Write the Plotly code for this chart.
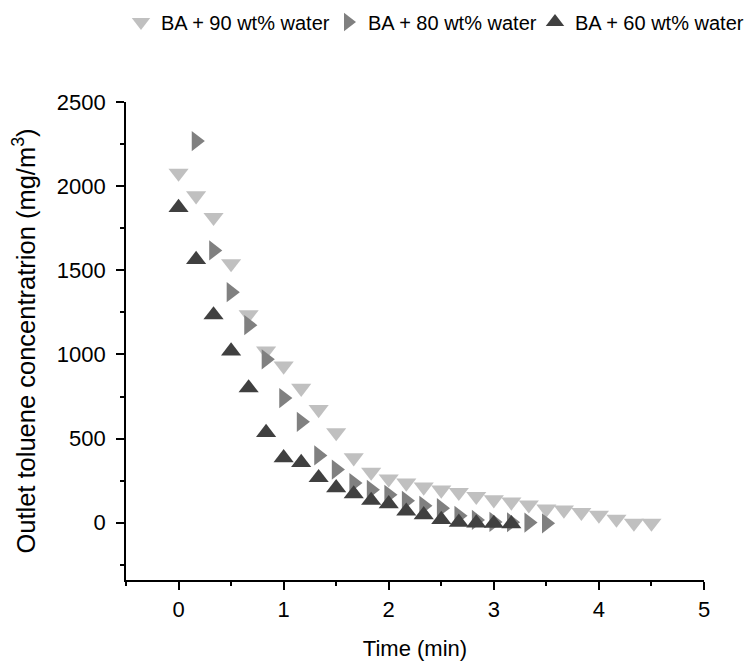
import plotly.graph_objects as go

# Time (min)
t90 = [0, 0.167, 0.333, 0.5, 0.667, 0.833, 1.0, 1.167, 1.333, 1.5, 1.667, 1.833, 2.0, 2.167,
       2.333, 2.5, 2.667, 2.833, 3.0, 3.167, 3.333, 3.5, 3.667, 3.833, 4.0, 4.167, 4.333, 4.5]
c90 = [2078, 1943, 1815, 1540, 1237, 1021, 932, 800, 673, 536, 387, 301, 261, 237,
       213, 195, 181, 157, 137, 124, 107, 82, 76, 62, 46, 22, -2, -2]

t80 = [0.167, 0.333, 0.5, 0.667, 0.833, 1.0, 1.167, 1.333, 1.5, 1.667, 1.833, 2.0, 2.167,
       2.333, 2.5, 2.667, 2.833, 3.0, 3.167, 3.333, 3.5]
c80 = [2268, 1618, 1370, 1174, 971, 741, 600, 400, 316, 236, 196, 166, 131,
       101, 87, 41, 17, 5, 3, 1, -3]

t60 = [0, 0.167, 0.333, 0.5, 0.667, 0.833, 1.0, 1.167, 1.333, 1.5, 1.667, 1.833, 2.0, 2.167,
       2.333, 2.5, 2.667, 2.833, 3.0, 3.167]
c60 = [1873, 1564, 1235, 1020, 801, 536, 386, 358, 268, 208, 171, 133, 113, 69,
       47, 19, 3, -2, -4, -6]

names = ["BA + 90 wt% water", "BA + 80 wt% water", "BA + 60 wt% water"]
colors = ["#c0c0c0", "#808080", "#404040"]
symbols = ["triangle-down", "triangle-right", "triangle-up"]
legend_ids = ["legend", "legend2", "legend3"]
legend_x = [113, 320, 527]   # left edge of each legend item (px, figure coords)

FONT = "Arial, Liberation Sans, sans-serif"
W, H = 744, 653   # page body adds an 8px offset

fig = go.Figure()
for xs, ys, nm, col, sym, lg in zip([t90, t80, t60], [c90, c80, c60], names, colors, symbols, legend_ids):
    fig.add_trace(go.Scatter(x=xs, y=ys, mode="markers", name=nm, legend=lg, showlegend=True,
                             marker=dict(symbol=sym, size=17.5, color=col, line=dict(width=0))))

axis_common = dict(showline=True, linecolor="black", linewidth=1.6, ticks="outside",
                   ticklen=8, tickwidth=1.6, tickcolor="black", showgrid=False, zeroline=False,
                   mirror=False, automargin=False,
                   tickfont=dict(family=FONT, size=22, color="black"))

fig.update_xaxes(range=[-0.5, 5.0], tickvals=[0, 1, 2, 3, 4, 5], ticklabelstandoff=1,
                 minor=dict(tickvals=[-0.5, 0.5, 1.5, 2.5, 3.5, 4.5], ticklen=4, tickwidth=1.6,
                            tickcolor="black", ticks="outside"),
                 title=dict(text="Time (min)", font=dict(family=FONT, size=22, color="black"), standoff=22),
                 **axis_common)
fig.update_yaxes(range=[-340, 2500], tickvals=[0, 500, 1000, 1500, 2000, 2500], ticklabelstandoff=6,
                 minor=dict(tickvals=[-250, 250, 750, 1250, 1750, 2250], ticklen=4, tickwidth=1.6,
                            tickcolor="black", ticks="outside"),
                 title=dict(text="Outlet toluene concentratrion (mg/m<sup>3</sup>)",
                            font=dict(family=FONT, size=25.5, color="black"), standoff=20),
                 **axis_common)

leg_common = dict(orientation="h", xref="container", yref="container",
                  xanchor="left", yanchor="middle", y=1 - 14 / H,
                  font=dict(family=FONT, size=20, color="black"),
                  bgcolor="rgba(0,0,0,0)", borderwidth=0, visible=True)

fig.update_layout(
    width=W, height=H, showlegend=True,
    margin=dict(l=118, r=48, t=94, b=81),
    plot_bgcolor="white", paper_bgcolor="white",
    legend=dict(x=legend_x[0] / W, **leg_common),
    legend2=dict(x=legend_x[1] / W, **leg_common),
    legend3=dict(x=legend_x[2] / W, **leg_common),
)

fig.write_html("out.html")
